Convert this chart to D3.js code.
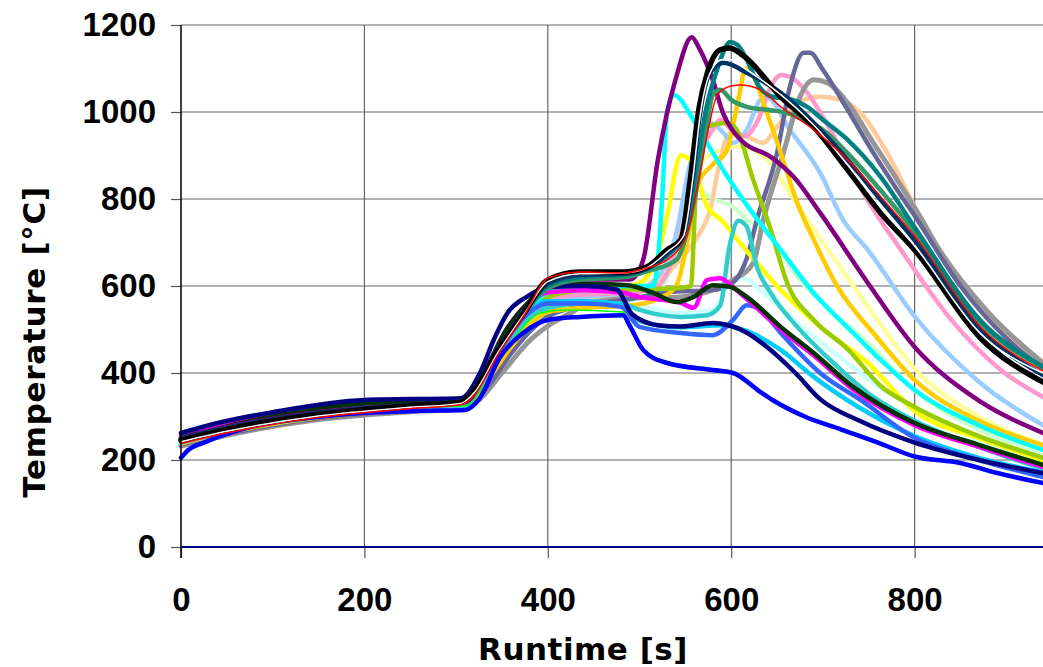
<!DOCTYPE html>
<html>
<head>
<meta charset="utf-8">
<script src="https://cdn.jsdelivr.net/npm/d3@7"></script>
<style>
  body { margin: 0; background: #fff; }
  svg { display: block; }
</style>
</head>
<body>
<svg id="chart" width="1043" height="667"></svg>
<script>
// tick values for both axes
const xTicks = [0, 200, 400, 600, 800];
const yTicks = [0, 200, 400, 600, 800, 1000, 1200];

// every series is [runtime s, temperature C]
const lightTurq = [[0,245],[50,268],[150,302],[250,320],[310,327],[335,400],[360,485],[385,540],[400,555],[440,565],[480,565],[510,550],[545,538],[580,545],[599,607],[613,618],[635,584],[672,515],[710,450],[760,370],[800,320],[870,245],[940,190]];
const lightGreen = [[0,242],[50,266],[150,300],[250,318],[310,325],[335,400],[360,480],[385,540],[400,560],[440,570],[490,575],[520,590],[545,700],[563,821],[580,800],[602,782],[617,752],[639,722],[672,621],[708,545],[749,469],[800,360],[870,270],[940,210]];
const lightYellow = [[0,246],[50,270],[150,303],[250,320],[310,327],[335,405],[360,490],[385,555],[400,580],[440,592],[490,595],[520,620],[545,700],[566,880],[580,906],[610,920],[639,890],[664,814],[683,752],[720,640],[760,520],[800,410],[870,300],[940,235]];
const tan = [[0,240],[50,264],[150,300],[250,317],[310,324],[335,392],[360,470],[385,535],[400,555],[440,570],[490,580],[515,600],[537,644],[563,713],[577,775],[588,890],[598,950],[617,943],[635,929],[650,966],[672,1021],[697,1035],[719,1028],[741,998],[770,906],[806,759],[860,580],[900,490],[940,425]];
const paleBlue = [[0,240],[50,265],[150,300],[250,318],[310,325],[335,395],[360,475],[385,540],[400,560],[440,575],[490,585],[520,620],[540,720],[555,880],[570,960],[578,975],[592,951],[602,929],[617,959],[632,1028],[640,1032],[664,959],[697,860],[722,752],[749,683],[800,530],[870,380],[940,280]];
const rose = [[0,243],[50,267],[150,301],[250,319],[310,326],[335,400],[360,485],[385,550],[400,570],[440,580],[490,585],[520,600],[545,720],[565,900],[580,960],[588,982],[600,960],[615,945],[630,985],[643,1058],[654,1085],[664,1081],[683,1044],[708,959],[748,800],[785,683],[840,522],[894,407],[940,345]];
const gray = [[0,232],[50,257],[150,293],[250,311],[310,318],[325,338],[350,400],[381,476],[405,515],[425,538],[445,561],[490,572],[545,575],[580,591],[602,614],[624,653],[635,752],[657,906],[675,1035],[690,1074],[705,1067],[727,1021],[755,929],[781,844],[806,759],[825,690],[880,540],[940,423]];
const blueGray = [[0,236],[50,260],[150,296],[250,314],[310,320],[335,370],[360,445],[385,505],[400,530],[440,555],[490,570],[530,586],[580,591],[600,605],[617,664],[628,752],[650,906],[664,1058],[679,1136],[686,1136],[700,1097],[727,1005],[755,906],[781,821],[803,752],[850,600],[900,480],[940,410]];
const yellow = [[0,250],[50,272],[150,305],[250,322],[310,330],[335,410],[360,500],[385,565],[400,585],[440,598],[490,600],[515,640],[530,760],[545,900],[555,890],[574,782],[590,750],[607,706],[654,591],[697,506],[749,423],[800,313],[870,250],[940,200]];
const gold = [[0,238],[50,263],[150,298],[250,315],[310,322],[335,385],[360,460],[385,520],[400,540],[440,550],[490,555],[520,570],[540,600],[552,700],[563,830],[580,880],[595,910],[607,1020],[616,1100],[622,1090],[639,998],[654,906],[672,791],[690,706],[716,598],[755,492],[800,384],[870,290],[940,234]];
const lime = [[0,244],[50,268],[150,302],[250,320],[310,327],[335,405],[360,490],[385,550],[400,575],[440,590],[490,592],[540,595],[556,600],[561,800],[565,900],[574,966],[596,975],[606,959],[624,844],[643,730],[661,607],[690,522],[727,455],[763,370],[800,322],[870,255],[940,205]];
const cyan = [[0,248],[50,270],[150,303],[250,321],[310,328],[335,405],[360,495],[385,560],[400,585],[440,598],[490,600],[515,600],[520,660],[525,814],[530,1000],[537,1039],[545,1028],[552,1005],[580,906],[596,851],[613,798],[654,683],[690,584],[733,492],[763,430],[800,361],[870,280],[940,223]];
const aqua = [[0,240],[50,265],[150,300],[250,318],[310,325],[335,400],[360,480],[385,535],[400,550],[440,560],[480,560],[500,545],[545,529],[574,533],[588,555],[598,690],[608,750],[617,736],[628,644],[643,584],[672,506],[708,430],[749,354],[800,290],[870,230],[940,180]];
const skyBlue = [[0,250],[40,272],[100,298],[200,325],[305,332],[330,395],[350,465],[375,535],[400,565],[440,565],[480,558],[500,520],[545,505],[590,510],[605,505],[620,494],[654,453],[690,391],[740,320],[800,255],[870,205],[940,172]];
const royalBlue = [[0,245],[40,268],[100,295],[200,322],[305,330],[330,390],[350,460],[375,530],[400,560],[440,560],[480,552],[500,506],[545,492],[580,487],[602,522],[617,556],[632,545],[654,492],[697,400],[741,338],[800,251],[870,200],[940,161]];
const magenta = [[0,258],[40,282],[100,305],[200,332],[305,338],[330,400],[352,490],[378,560],[400,585],[440,590],[480,585],[500,575],[545,561],[559,550],[574,614],[588,618],[600,600],[617,570],[654,500],[690,440],[733,362],[800,280],[870,230],[940,184]];
const green = [[0,240],[50,270],[150,305],[250,320],[310,325],[330,370],[362,476],[392,538],[417,545],[482,540],[490,510],[504,456],[530,426],[580,410],[602,403],[632,359],[645,341],[680,303],[720,273],[760,243],[800,211],[850,196],[890,173],[940,150]];
const darkGreen = [[0,248],[40,272],[100,300],[200,330],[305,338],[330,400],[355,500],[380,565],[400,600],[440,605],[487,602],[515,584],[541,563],[559,575],[580,602],[599,598],[617,575],[654,506],[690,446],[733,368],[800,285],[870,235],[940,189]];
const navy = [[0,262],[40,285],[100,310],[200,338],[305,342],[326,400],[341,476],[356,538],[377,575],[400,597],[440,600],[475,592],[492,535],[520,510],[545,507],[580,515],[600,508],[615,495],[640,458],[670,400],[697,340],[740,290],[800,240],[870,200],[940,170]];
const blue = [[0,205],[8,223],[25,240],[80,278],[140,297],[200,308],[260,313],[310,315],[325,340],[348,437],[373,492],[400,522],[435,529],[482,533],[490,506],[504,453],[530,423],[580,407],[602,400],[632,356],[645,338],[680,300],[720,270],[760,240],[800,208],[850,193],[890,170],[940,147]];
const purple = [[0,252],[50,276],[150,310],[250,326],[310,333],[335,410],[360,500],[385,570],[400,595],[440,615],[490,615],[504,660],[520,890],[540,1080],[557,1172],[565,1147],[580,1073],[591,998],[601,959],[613,931],[643,897],[668,851],[697,768],[749,607],[800,460],[864,345],[940,262]];
const seaGreen = [[0,246],[50,271],[150,305],[250,325],[305,333],[320,360],[345,450],[375,540],[400,595],[435,615],[482,620],[510,635],[540,660],[560,800],[572,950],[580,1040],[588,1051],[600,1028],[617,1012],[639,1005],[661,998],[679,982],[700,959],[727,905],[763,820],[800,725],[872,515],[940,412]];
const teal = [[0,247],[50,272],[150,306],[250,326],[305,334],[320,362],[345,452],[375,542],[400,600],[435,620],[482,625],[508,640],[530,670],[550,720],[562,870],[572,1000],[585,1100],[599,1161],[607,1154],[617,1120],[630,1060],[645,1035],[664,1030],[683,1012],[700,982],[727,936],[763,851],[800,735],[872,520],[940,415]];
const darkTeal = [[0,250],[50,274],[150,308],[250,327],[305,335],[320,365],[345,455],[375,545],[400,605],[435,625],[482,628],[508,640],[530,675],[548,720],[558,850],[565,982],[577,1090],[592,1113],[617,1090],[654,1044],[690,975],[727,890],[763,798],[800,705],[872,500],[940,395]];
const black = [[0,245],[50,270],[150,305],[250,325],[305,333],[320,360],[345,450],[375,540],[400,614],[435,632],[482,632],[508,644],[530,683],[545,706],[555,840],[565,1010],[574,1090],[588,1143],[598,1147],[613,1130],[654,1035],[690,966],[727,867],[763,768],[800,683],[872,480],[940,379]];
const white = [[0,242],[50,266],[150,301],[250,321],[305,330],[320,355],[345,445],[375,538],[400,610],[435,628],[482,630],[508,642],[530,678],[548,715],[558,845],[566,990],[576,1085],[590,1120],[600,1120],[615,1100],[654,1040],[690,970],[727,878],[763,780],[800,692],[872,490],[940,400]];
const red = [[0,238],[50,262],[150,298],[250,318],[305,327],[320,350],[345,440],[375,535],[400,618],[435,632],[482,630],[508,642],[530,660],[552,720],[565,850],[575,960],[585,1040],[600,1060],[610,1062],[632,1051],[654,1012],[690,959],[727,890],[763,805],[800,715],[872,505],[940,405]];

// draw order (later = on top), colour and line width for each series
const seriesList = [
  {data: lightTurq, color: "#CCFFFF", w: 4.5},
  {data: lightGreen, color: "#CCFFCC", w: 4.5},
  {data: lightYellow, color: "#FFFF99", w: 4.5},
  {data: tan, color: "#FFCC99", w: 4.5},
  {data: paleBlue, color: "#99CCFF", w: 4.5},
  {data: rose, color: "#FF99CC", w: 4.5},
  {data: gray, color: "#969696", w: 5},
  {data: blueGray, color: "#666699", w: 4.5},
  {data: yellow, color: "#FFFF00", w: 4.5},
  {data: gold, color: "#FFCC00", w: 4.5},
  {data: lime, color: "#99CC00", w: 4.5},
  {data: cyan, color: "#00FFFF", w: 4.5},
  {data: aqua, color: "#33CCCC", w: 4.5},
  {data: skyBlue, color: "#00CCFF", w: 4.5},
  {data: royalBlue, color: "#3366FF", w: 4.5},
  {data: magenta, color: "#FF00FF", w: 4.5},
  {data: green, color: "#00FF00", w: 1.5},
  {data: darkGreen, color: "#003300", w: 4.5},
  {data: navy, color: "#000080", w: 4.5},
  {data: blue, color: "#0000FF", w: 4.5},
  {data: purple, color: "#800080", w: 4.5},
  {data: seaGreen, color: "#339966", w: 4.5},
  {data: teal, color: "#008080", w: 4.5},
  {data: darkTeal, color: "#003366", w: 4.5},
  {data: black, color: "#000000", w: 5.5},
  {data: white, color: "#FFFFFF", w: 1.5},
  {data: red, color: "#FF0000", w: 1.5}
];

const svg = d3.select("#chart");

// plot box in pixels
const plotLeft = 181, plotRight = 1043, plotTop = 25, plotBottom = 547;

const x = d3.scaleLinear().domain([0, 940]).range([plotLeft, plotRight]);
const y = d3.scaleLinear().domain([0, 1200]).range([plotBottom, plotTop]);

// grid lines
svg.append("g")
  .selectAll("line")
  .data(yTicks.filter(d => d > 0))
  .enter()
  .append("line")
    .attr("x1", plotLeft).attr("x2", plotRight)
    .attr("y1", d => y(d)).attr("y2", d => y(d))
    .attr("stroke", "#666")
    .attr("stroke-width", 1.2);

svg.append("g")
  .selectAll("line")
  .data(xTicks.filter(d => d > 0))
  .enter()
  .append("line")
    .attr("x1", d => x(d)).attr("x2", d => x(d))
    .attr("y1", plotTop).attr("y2", plotBottom)
    .attr("stroke", "#666")
    .attr("stroke-width", 1.2);

// axes with outside ticks and bold labels, no thousands comma
const yAxis = d3.axisLeft(y).tickValues(yTicks).tickFormat(d3.format("d")).tickSize(10).tickPadding(15);
const xAxis = d3.axisBottom(x).tickValues(xTicks).tickFormat(d3.format("d")).tickSize(11).tickPadding(30);

const gy = svg.append("g").attr("transform", `translate(${plotLeft},0)`).call(yAxis);
const gx = svg.append("g").attr("transform", `translate(0,${plotBottom})`).call(xAxis);

[gy, gx].forEach(g => {
  g.select(".domain").remove();
  g.selectAll(".tick line").attr("stroke", "#555").attr("stroke-width", 1.2);
  g.selectAll(".tick text")
    .attr("fill", "#000")
    .attr("font-family", "'Liberation Sans', Arial, sans-serif")
    .attr("font-weight", "bold")
    .attr("font-size", "33px");
});

// the lines themselves
const line = d3.line()
  .x(d => x(d[0]))
  .y(d => y(d[1]))
  .curve(d3.curveMonotoneX);

svg.append("g")
  .selectAll("path")
  .data(seriesList)
  .enter()
  .append("path")
    .attr("d", d => line(d.data))
    .attr("fill", "none")
    .attr("stroke", d => d.color)
    .attr("stroke-width", d => d.w)
    .attr("stroke-linejoin", "round")
    .attr("stroke-linecap", "round");

// left axis line and the navy zero line
svg.append("line")
  .attr("x1", plotLeft).attr("x2", plotLeft)
  .attr("y1", plotTop).attr("y2", plotBottom + 11)
  .attr("stroke", "#000").attr("stroke-width", 1.5);

svg.append("line")
  .attr("x1", plotLeft).attr("x2", plotRight)
  .attr("y1", plotBottom).attr("y2", plotBottom)
  .attr("stroke", "#000080").attr("stroke-width", 2);

// axis titles
svg.append("text")
  .attr("x", 583).attr("y", 660)
  .attr("text-anchor", "middle")
  .attr("font-family", "'DejaVu Sans', Verdana, sans-serif")
  .attr("font-weight", "bold")
  .attr("font-size", "31px")
  .attr("letter-spacing", "0.5px")
  .text("Runtime [s]");

svg.append("text")
  .attr("transform", "translate(45,342) rotate(-90)")
  .attr("text-anchor", "middle")
  .attr("font-family", "'DejaVu Sans', Verdana, sans-serif")
  .attr("font-weight", "bold")
  .attr("font-size", "31px")
  .attr("letter-spacing", "0.7px")
  .text("Temperature [°C]");
</script>
</body>
</html>
